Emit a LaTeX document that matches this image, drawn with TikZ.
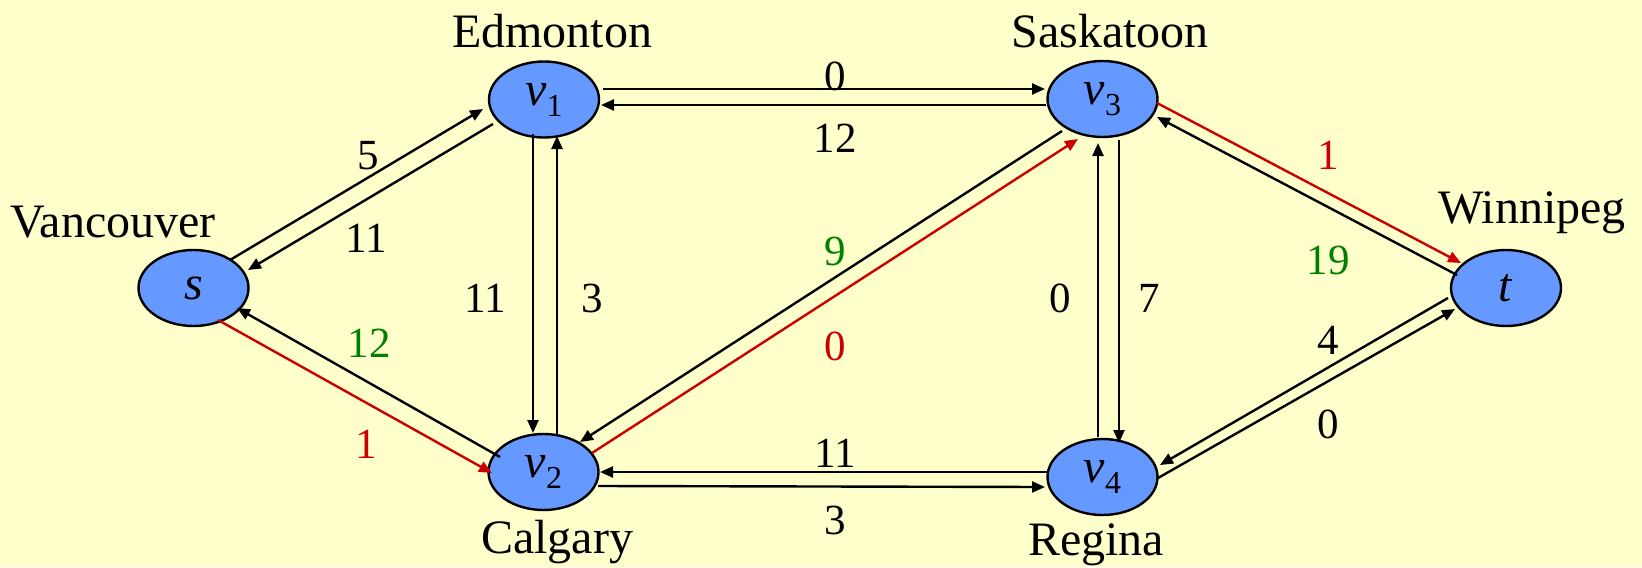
\documentclass[tikz,border=0pt]{standalone}
\usepackage{fontspec}
\setmainfont{Liberation Serif}
\usetikzlibrary{arrows.meta,calc,shapes.geometric}
\definecolor{bgyellow}{RGB}{255,255,204}
\definecolor{nodefill}{RGB}{102,153,255}
\definecolor{flowred}{RGB}{204,0,0}
\definecolor{flowgreen}{RGB}{0,128,0}
\newcommand{\vlab}[1]{\textit{v}\raisebox{-5.5pt}{\fontsize{16}{16}\selectfont #1}}
\begin{document}
\begin{tikzpicture}[x=0.5pt,y=-0.5pt,
  vertex/.style={ellipse,draw=black,line width=1.2pt,fill=nodefill,
    minimum width=55pt,minimum height=38pt,inner sep=0pt,
    font=\fontsize{24}{28}\selectfont},
  city/.style={font=\fontsize{24}{28}\selectfont,inner sep=0pt},
  wt/.style={font=\fontsize{21.5}{26}\selectfont,inner sep=0pt},
  arc/.style={line width=1.2pt,-{Triangle[length=6.5pt,width=5.5pt]}},
  redarc/.style={arc,draw=flowred,color=flowred}]
\useasboundingbox[fill=bgyellow] (0,0) rectangle (1642,567);
% vertices
\node[vertex] (s)  at (193.5,288) {\textit{s}};
\node[vertex] (v1) at (544,99.5) {\vlab{1}};
\node[vertex] (v3) at (1102.5,99) {\vlab{3}};
\node[vertex] (t)  at (1506,288) {\textit{t}};
\node[vertex] (v2) at (543.5,472) {\vlab{2}};
\node[vertex] (v4) at (1102.5,477) {\vlab{4}};
% city names
\node[city] (edm) at (552,31) {Edmonton};
\node[city] (sas) at (1110,31) {Saskatoon};
\node[city] (van) at (113,222) {Vancouver};
\node[city] (win) at (1532,213) {Winnipeg};
\node[city] (cal) at (557,542) {Calgary};
\node[city] (reg) at (1096,545) {Regina};
% edges
\draw[arc] ($(s)+(36.5,-28)$) -- ($(v1)+(-61,9.5)$);
\draw[arc] ($(v1)+(-51,24.5)$) -- ($(s)+(54.5,-18)$);
\draw[redarc] ($(s)+(24.5,32)$) -- ($(v2)+(-51.5,1)$);
\draw[arc] ($(v2)+(-43.5,-15)$) -- ($(s)+(43.5,20)$);
\draw[arc] ($(v1)+(-11,34.5)$) -- ($(v2)+(-10.5,-39)$);
\draw[arc] ($(v2)+(13.5,-37)$) -- ($(v1)+(13,36.5)$);
\draw[arc] ($(v1)+(59,-10.5)$) -- ($(v3)+(-57.5,-10)$);
\draw[arc] ($(v3)+(-56.5,6)$) -- ($(v1)+(57,5.5)$);
\draw[arc] ($(v3)+(-40.5,32)$) -- ($(v2)+(36.5,-30)$);
\draw[redarc] ($(v2)+(48.5,-19)$) -- ($(v3)+(-24.5,40)$);
\draw[arc] ($(v4)+(-4.5,-40)$) -- ($(v3)+(-4.5,44)$);
\draw[arc] ($(v3)+(16.5,41)$) -- ($(v4)+(16.5,-34)$);
\draw[redarc] ($(v3)+(54.5,4)$) -- ($(t)+(-45,-25)$);
\draw[arc] ($(t)+(-49,-13)$) -- ($(v3)+(54.5,18)$);
\draw[arc] ($(t)+(-58,10)$) -- ($(v4)+(57.5,-12)$);
\draw[arc] ($(v4)+(55.5,1)$) -- ($(t)+(-51,21)$);
\draw[arc] ($(v4)+(-55.5,-5)$) -- ($(v2)+(56.5,0)$);
\draw[arc] ($(v2)+(54.5,14)$) -- ($(v4)+(-57.5,10)$);
% weights
\node[wt] (w1) at (368,156) {5};
\node[wt] (w2) at (366,238) {11};
\node[wt,text=flowgreen] (w3) at (369,343) {12};
\node[wt,text=flowred] (w4) at (366,444) {1};
\node[wt] (w5) at (485,298) {11};
\node[wt] (w6) at (592,298) {3};
\node[wt] (w7) at (835,76) {0};
\node[wt] (w8) at (835,138) {12};
\node[wt,text=flowgreen] (w9) at (835,251) {9};
\node[wt,text=flowred] (w10) at (835,346) {0};
\node[wt] (w11) at (1060,298) {0};
\node[wt] (w12) at (1149,298) {7};
\node[wt,text=flowred] (w13) at (1328,155) {1};
\node[wt,text=flowgreen] (w14) at (1328,260) {19};
\node[wt] (w15) at (1328,340) {4};
\node[wt] (w16) at (1328,424) {0};
\node[wt] (w17) at (835,453) {11};
\node[wt] (w18) at (835,520) {3};
\end{tikzpicture}
\end{document}
